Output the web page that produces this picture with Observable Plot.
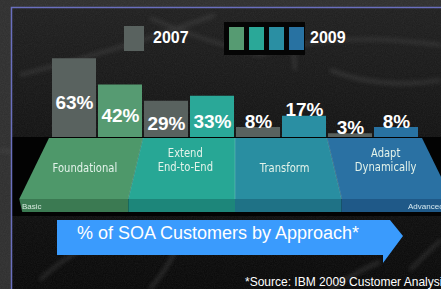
<!DOCTYPE html>
<html><head><meta charset="utf-8">
<script src="https://cdn.jsdelivr.net/npm/d3@7"></script>
<script src="https://cdn.jsdelivr.net/npm/@observablehq/plot@0.6"></script>
<style>
html,body{margin:0;padding:0;background:#121212;overflow:hidden}
#chart svg{display:block}
</style></head><body><div id="chart"></div>
<script>
// ---- data ----
const approaches = ["Foundational", "Extend End-to-End", "Transform", "Adapt Dynamically"];
const approachLines = [["Foundational"], ["Extend", "End-to-End"], ["Transform"], ["Adapt", "Dynamically"]];
const years = ["2007", "2009"];
const share2007 = [63, 29, 8, 3];
const share2009 = [42, 33, 17, 8];
const scaleEnds = ["Basic", "Advanced"];
const titleText = "% of SOA Customers by Approach*";
const sourceText = "*Source: IBM 2009 Customer Analysis";

// ---- styles ----
const grey = "#59625f";
const colors2009 = ["#569b72", "#2aa898", "#2a8fa3", "#2872a2"];
const faceColors = ["#4e986a", "#27a795", "#298ea1", "#2a71a3"];
const stripColors = ["#3b7a52", "#1d867a", "#1f7286", "#1f5988"];
const FONT = "Liberation Sans, Arial, Helvetica, sans-serif";

const rows = [];
approaches.forEach((a, i) => {
  rows.push({approach: a, year: years[0], value: share2007[i], key: a + "|" + years[0], color: grey});
  rows.push({approach: a, year: years[1], value: share2009[i], key: a + "|" + years[1], color: colors2009[i]});
});

const W = 441, H = 289;
const labelStyle = {fill: "white", fontSize: 19, fontWeight: "bold", fontFamily: FONT};
const plot = Plot.plot({
  width: W, height: H,
  marginTop: 0, marginRight: 0, marginBottom: 0, marginLeft: 0,
  style: {background: "transparent", overflow: "hidden"},
  x: {type: "band", domain: rows.map(d => d.key), range: [50, 421], paddingInner: 0.04, paddingOuter: 0, axis: null},
  y: {type: "linear", domain: [0, 100], range: [137, 12], axis: null},
  color: {type: "ordinal", domain: rows.map(d => d.key), range: rows.map(d => d.color)},
  marks: [
    Plot.barY(rows, {x: "key", y: "value", fill: "key"}),
    Plot.text(rows.filter(d => d.value >= 25), {x: "key", y: d => d.value / 2, dy: 5, text: d => d.value + "%", ...labelStyle}),
    Plot.text(rows.filter(d => d.value < 25), {x: "key", y: "value", dy: -6, text: d => d.value + "%", ...labelStyle})
  ]
});
document.getElementById("chart").appendChild(plot);

// ---- scales from the plot ----
const xsDesc = plot.scale("x"), ysDesc = plot.scale("y"), csDesc = plot.scale("color");
const xs = xsDesc.apply ? xsDesc.apply : d3.scaleBand(xsDesc.domain, xsDesc.range).paddingInner(0.04).paddingOuter(0);
const bw = xsDesc.bandwidth;
const ys = ysDesc.apply ? ysDesc.apply : d3.scaleLinear(ysDesc.domain, ysDesc.range);
const cs = csDesc.apply ? csDesc.apply : d3.scaleOrdinal(csDesc.domain, csDesc.range);
const k = (a, y) => a + "|" + y;

const svg = d3.select(plot);
const defs = svg.insert("defs", ":first-child");
const nf = defs.append("filter").attr("id", "noise").attr("x", 0).attr("y", 0).attr("width", "100%").attr("height", "100%");
nf.append("feTurbulence").attr("type", "fractalNoise").attr("baseFrequency", 0.9).attr("numOctaves", 2).attr("seed", 4);
nf.append("feColorMatrix").attr("type", "saturate").attr("values", 0);
defs.append("filter").attr("id", "blur").attr("x", "-20%").attr("y", "-20%").attr("width", "140%").attr("height", "140%")
  .append("feGaussianBlur").attr("stdDeviation", 2.2);
defs.append("filter").attr("id", "soft").attr("x", "-10%").attr("y", "-30%").attr("width", "120%").attr("height", "160%")
  .append("feGaussianBlur").attr("stdDeviation", 0.45);
const bgGrad = defs.append("linearGradient").attr("id", "bgGrad").attr("x1", 0).attr("y1", 0).attr("x2", 0).attr("y2", 1);
bgGrad.append("stop").attr("offset", 0).attr("stop-color", "#1f1f1f");
bgGrad.append("stop").attr("offset", 0.45).attr("stop-color", "#121212");
bgGrad.append("stop").attr("offset", 1).attr("stop-color", "#070707");

// background layer (below marks)
const bg = svg.insert("g", "defs + *").attr("text-anchor", "start");
bg.append("rect").attr("width", W).attr("height", H).attr("fill", "#2e2e2e");
bg.append("rect").attr("x", 11).attr("y", 7).attr("width", W - 11).attr("height", H - 7).attr("fill", "url(#bgGrad)");
// faint network lines
const net = bg.append("g").attr("stroke", "#4a4a4a").attr("stroke-width", 3).attr("fill", "none").attr("filter", "url(#blur)").attr("opacity", 0.55);
["M20,75 Q120,50 215,15", "M150,18 Q200,40 260,55", "M260,55 Q330,30 441,45", "M293,40 L295,70",
 "M330,70 Q380,90 441,80", "M40,280 Q60,260 90,245", "M150,289 Q170,265 175,250", "M330,289 Q360,270 380,262",
 "M410,270 Q430,250 441,240", "M0,150 L12,152"].forEach(p => net.append("path").attr("d", p));
bg.append("rect").attr("width", W).attr("height", H).attr("filter", "url(#noise)").attr("opacity", 0.09);

// pyramid (category band) derived from the x scale
const y0 = ys(0), faceBottom = 199, stripBottom = 212;
const gStart = approaches.map(a => xs(k(a, years[0])));
const gEnd = approaches.map(a => xs(k(a, years[1])) + bw);
const topB = [gStart[0] - 3];
for (let i = 0; i < approaches.length - 1; i++) topB.push((gEnd[i] + gStart[i + 1]) / 2);
topB.push(gEnd[approaches.length - 1] + 4);
const cx = topB[2];
const botB = topB.map(t => cx + (t - cx) * 1.16);
bg.append("rect").attr("x", 11).attr("y", y0).attr("width", W - 11).attr("height", stripBottom - y0 + 4).attr("fill", "#030303");
const pyr = bg.append("g");
approaches.forEach((a, i) => {
  pyr.append("path").attr("fill", faceColors[i])
    .attr("d", `M${topB[i]},${y0 + 1}L${topB[i + 1]},${y0 + 1}L${botB[i + 1]},${faceBottom}L${botB[i]},${faceBottom}Z`);
  pyr.append("path").attr("fill", stripColors[i])
    .attr("d", `M${botB[i]},${faceBottom}L${botB[i + 1]},${faceBottom}L${botB[i + 1]},${stripBottom}L${botB[i] + (i === 0 ? 3 : 0)},${stripBottom}Z`);
  const lines = approachLines[i];
  const mid = (topB[i] + topB[i + 1] + botB[i] + botB[i + 1]) / 4;
  const t = pyr.append("text").attr("text-anchor", "middle")
    .attr("transform", `translate(${mid},0) scale(0.8,1)`)
    .attr("font-family", "DejaVu Sans, sans-serif")
    .attr("font-size", 12.5).attr("fill", "#e3f3ea").attr("filter", "url(#soft)");
  const startY = lines.length === 1 ? 172 : 157;
  lines.forEach((ln, j) => t.append("tspan").attr("x", 0).attr("y", startY + j * 14).text(ln));
});
for (let i = 1; i < approaches.length; i++) {
  pyr.append("line").attr("x1", topB[i]).attr("y1", y0 + 1).attr("x2", botB[i]).attr("y2", faceBottom)
    .attr("stroke", "#bfe8e0").attr("stroke-opacity", 0.25).attr("stroke-width", 1);
}
pyr.append("text").attr("x", 22).attr("y", 209).attr("font-size", 8).attr("font-family", FONT)
  .attr("fill", "#d5e8dc").attr("filter", "url(#soft)").text(scaleEnds[0]);
pyr.append("text").attr("x", 408).attr("y", 209).attr("font-size", 8).attr("font-family", FONT)
  .attr("fill", "#d5e8f0").attr("filter", "url(#soft)").text(scaleEnds[1]);
// frame lines
bg.append("path").attr("d", `M11.5,${H}V7.5H${W}`).attr("fill", "none").attr("stroke", "#6a6fbe").attr("stroke-width", 1.5);

// foreground: legend, arrow, source
const fg = svg.append("g").attr("text-anchor", "start");
fg.append("rect").attr("x", 124).attr("y", 26).attr("width", 20).attr("height", 25).attr("fill", cs(k(approaches[0], years[0])));
fg.append("text").attr("x", 153).attr("y", 43).attr("font-family", FONT).attr("font-weight", "bold").attr("font-size", 16)
  .attr("fill", "white").text(years[0]);
fg.append("rect").attr("x", 224).attr("y", 22).attr("width", 81).attr("height", 33).attr("fill", "#050505");
approaches.forEach((a, i) => {
  fg.append("rect").attr("x", 229 + i * 20).attr("y", 27).attr("width", 15).attr("height", 23).attr("fill", cs(k(a, years[1])));
});
fg.append("text").attr("x", 310).attr("y", 43).attr("font-family", FONT).attr("font-weight", "bold").attr("font-size", 16)
  .attr("fill", "white").text(years[1]);

fg.append("path").attr("fill", "#3a9bfd").attr("d", "M57,220H390L403,236L383,263V255H57Z");
fg.append("text").attr("x", 218).attr("y", 239).attr("text-anchor", "middle").attr("font-family", FONT)
  .attr("font-size", 18).attr("fill", "white").text(titleText);
fg.append("text").attr("x", 245).attr("y", 286).attr("font-family", FONT).attr("font-size", 12)
  .attr("fill", "white").text(sourceText);
</script></body></html>
